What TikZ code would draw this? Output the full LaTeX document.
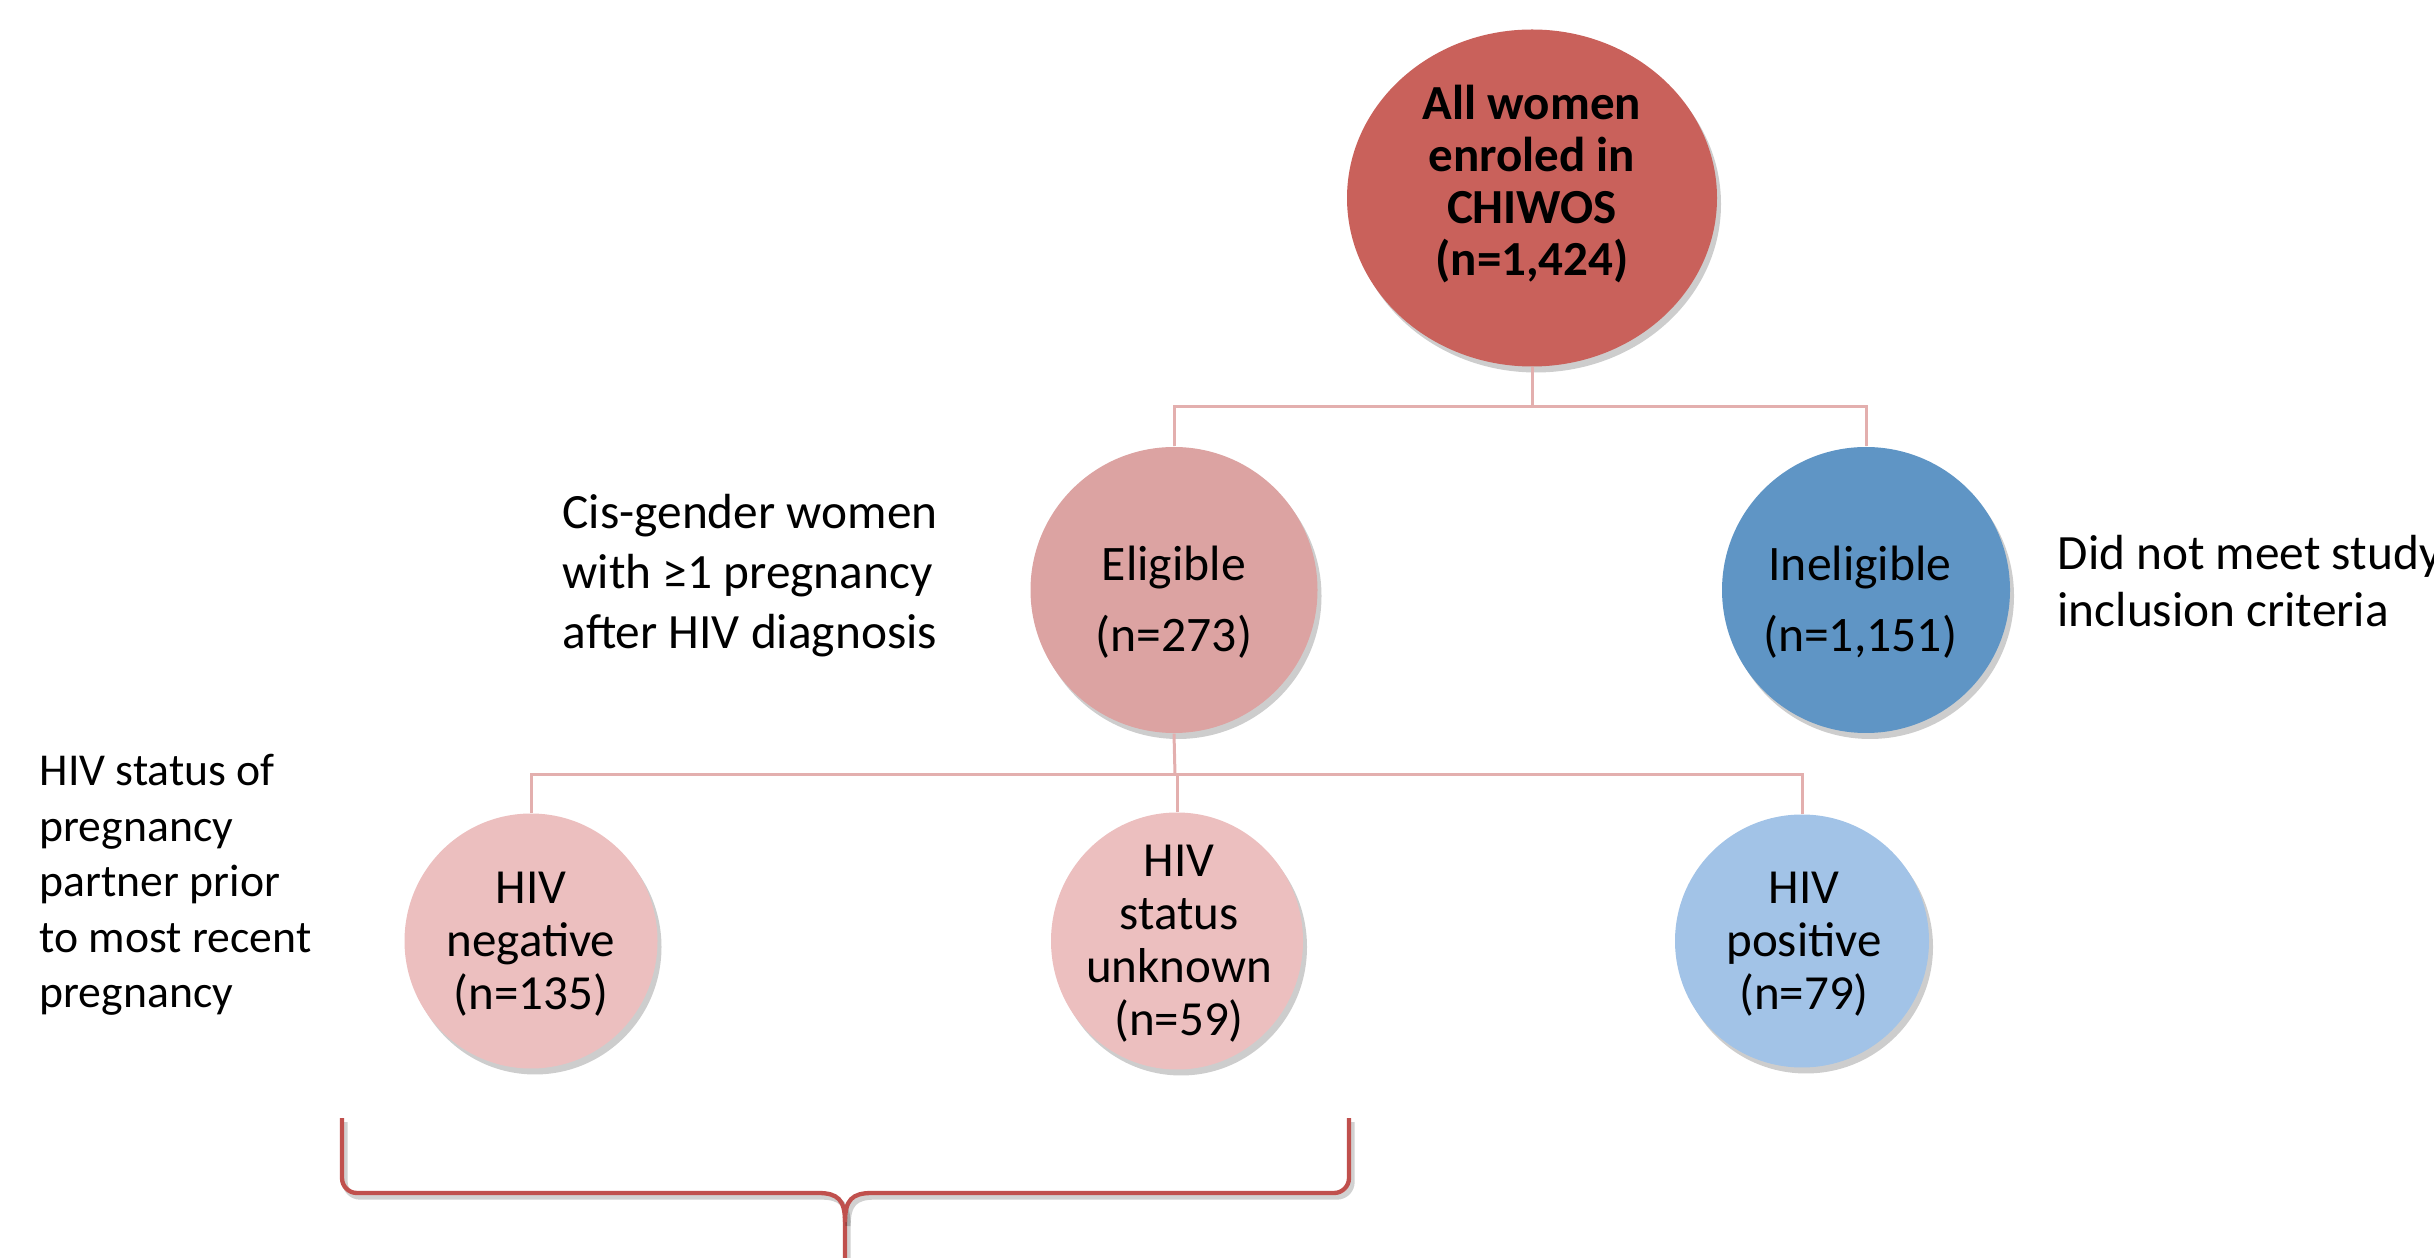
\documentclass[tikz,border=0pt]{standalone}
\usepackage{fontspec}
\setmainfont{Carlito}
\usetikzlibrary{shapes.geometric,shadows}
\definecolor{topred}{RGB}{201,97,91}
\definecolor{eligpink}{RGB}{220,163,162}
\definecolor{lightpink}{RGB}{236,191,191}
\definecolor{darkblue}{RGB}{95,149,197}
\definecolor{lightblue}{RGB}{162,195,231}
\definecolor{linkpink}{RGB}{227,175,174}
\definecolor{bracered}{RGB}{192,80,77}
\tikzset{
  bubble/.style={ellipse, inner sep=0pt, draw=none,
    drop shadow={shadow xshift=1.2pt, shadow yshift=-1.8pt, opacity=0.28, fill=black!70}},
  link/.style={draw=linkpink, line width=0.9pt},
  txt/.style={inner sep=0pt, text=black, align=center},
  sidetxt/.style={inner sep=0pt, text=black, align=left, anchor=west},
  bracestyle/.style={draw=bracered, line width=1.3pt, line join=round,
    preaction={draw=black, opacity=0.18, line width=1.6pt, transform canvas={xshift=0.9pt, yshift=-1.2pt}}}
}
\begin{document}
\begin{tikzpicture}[x=0.3pt,y=-0.3pt]
\useasboundingbox (0,0) rectangle (2434,1258);
\clip (0,0) rectangle (2434,1258);

% circles
\node[bubble, fill=topred, minimum width=111pt, minimum height=101.1pt] (all) at (1532,198) {};
\node[bubble, fill=eligpink, minimum width=86.1pt, minimum height=85.8pt] (elig) at (1174,590) {};
\node[bubble, fill=darkblue, minimum width=86.4pt, minimum height=85.8pt] (inelig) at (1866,590) {};
\node[bubble, fill=lightpink, minimum width=75.9pt, minimum height=76.5pt] (neg) at (531,941) {};
\node[bubble, fill=lightpink, minimum width=75.6pt, minimum height=77.1pt] (unk) at (1177,941) {};
\node[bubble, fill=lightblue, minimum width=76.2pt, minimum height=75.9pt] (pos) at (1802,941) {};

% connectors
\coordinate (j1) at (1532,407);
\coordinate (j2) at (1175,775);
\draw[link] (all.south) -- (j1);
\draw[link] (elig.north) |- (j1) -| (inelig.north);
\draw[link] (elig.south) -- (j2);
\draw[link] (neg.north) |- (j2) -| (pos.north);
\draw[link] (unk.north) -- (unk.north |- j2);

% texts in circles
\node[txt, font=\bfseries\fontsize{14.7}{15.6}\selectfont] (allt) at (1532,184)
  {All women\\enroled in\\CHIWOS\\(n=1,424)};
\node[txt, font=\fontsize{14.9}{21.3}\selectfont] (eligt) at (1174,602)
  {Eligible\\(n=273)};
\node[txt, font=\fontsize{14.9}{21.3}\selectfont] (ineligt) at (1860,602)
  {Ineligible\\(n=1,151)};
\node[txt, font=\fontsize{14.7}{15.9}\selectfont] (negt) at (531,944)
  {HIV\\negative\\(n=135)};
\node[txt, font=\fontsize{14.7}{15.9}\selectfont] (unkt) at (1179,944)
  {HIV\\status\\unknown\\(n=59)};
\node[txt, font=\fontsize{14.7}{15.9}\selectfont] (post) at (1804,944)
  {HIV\\positive\\(n=79)};

% side texts
\node[sidetxt, font=\fontsize{14.8}{18}\selectfont] (cis) at (562,576)
  {Cis-gender women\\with ≥1 pregnancy\\after HIV diagnosis};
\node[sidetxt, font=\fontsize{14.8}{17.1}\selectfont] (dnm) at (2057,581)
  {Did not meet study\\inclusion criteria};
\node[sidetxt, font=\fontsize{13.7}{16.65}\selectfont] (part) at (39,885)
  {HIV status of\\pregnancy\\partner prior\\to most recent\\pregnancy};

% brace
\coordinate (bl) at (342,1118);
\coordinate (br) at (1349,1118);
\coordinate (bm) at (845,1270);
\draw[bracestyle] (bl) -- (342,1178) arc[start angle=180, end angle=90, radius=15] -- (818,1193)
  .. controls (838,1193) and (845,1200) .. (845,1222) -- (bm);
\draw[bracestyle] (br) -- (1349,1178) arc[start angle=0, end angle=90, radius=15] -- (872,1193)
  .. controls (852,1193) and (845,1200) .. (845,1222);
\end{tikzpicture}
\end{document}
